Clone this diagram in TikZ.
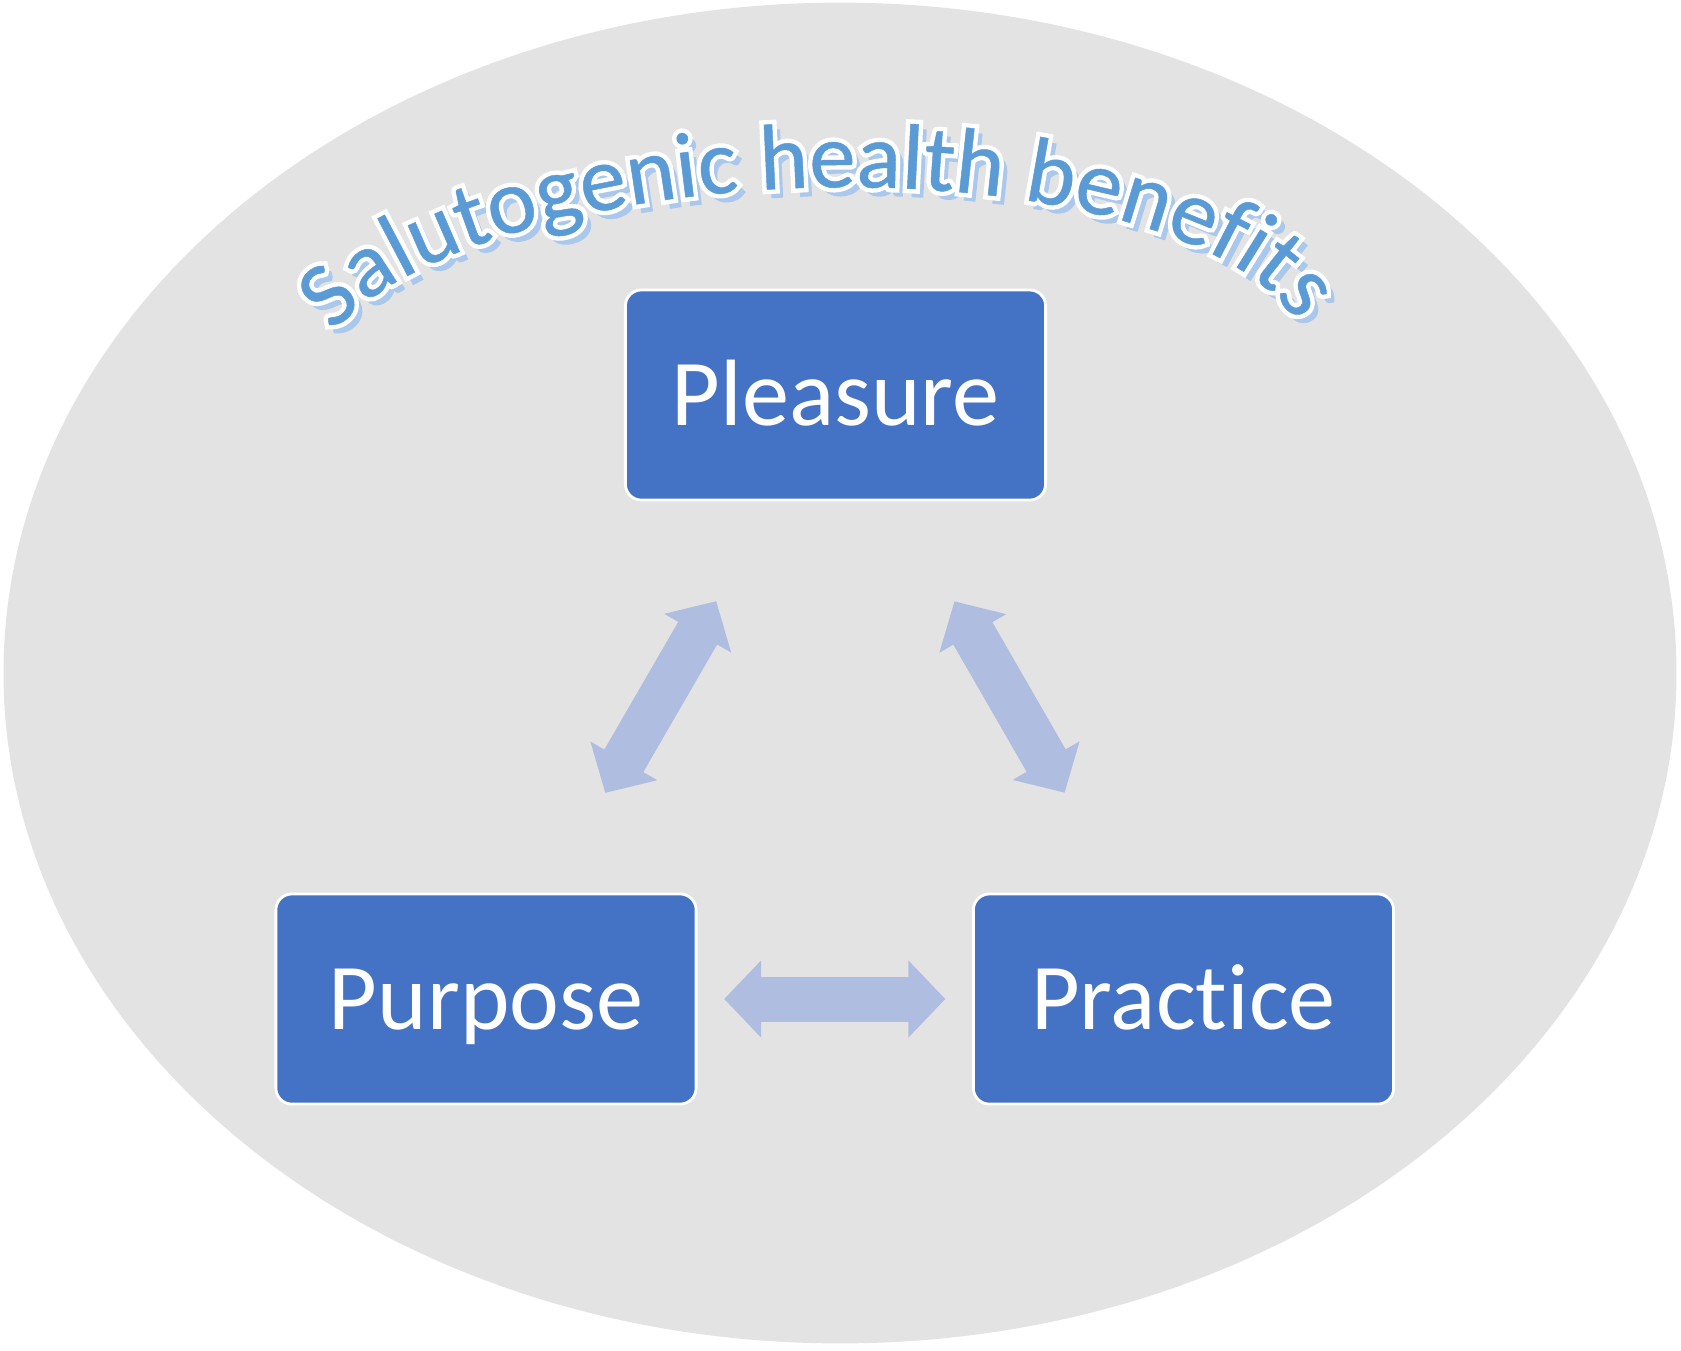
\documentclass[tikz,border=0pt]{standalone}
\usepackage{fontspec}
\setmainfont{Carlito}[Ligatures=NoCommon]
\newfontfamily\titlefont{Carlito}[Ligatures=NoCommon,FakeBold=0.5]
\newfontfamily\titleshade{Carlito}[Ligatures=NoCommon,FakeBold=4]
\newfontfamily\titleedge{Carlito}[Ligatures=NoCommon,FakeBold=10]
\usetikzlibrary{arrows.meta,decorations.text}
\definecolor{ovalgray}{HTML}{E4E3E4}
\definecolor{boxblue}{HTML}{4472C4}
\definecolor{arrowblue}{HTML}{AFBDE0}
\definecolor{titleblue}{HTML}{5B9BD5}
\definecolor{shadowblue}{HTML}{A9C8EC}
\newcommand\titlesize{\fontsize{26.5}{26.5}\selectfont}

\begin{document}
\begin{tikzpicture}[x=0.01cm,y=-0.01cm,
    box/.style={draw=white, line width=0.8pt, fill=boxblue, rounded corners=1.6mm,
        minimum width=4.2cm, minimum height=2.1cm, text=white,
        font=\fontsize{26.8}{26.8}\selectfont, text height=17.3pt, text depth=0pt},
    biarrow/.style={arrowblue, line width=4.5mm,
        {Triangle[width=7.5mm,length=3.7mm]}-{Triangle[width=7.5mm,length=3.7mm]},
        shorten <=23.8mm, shorten >=23.8mm},
    titlearc/.style 2 args={decorate, decoration={text along path, text align=fit to path,
        text color=#1, text={|#2\titlesize|Salutogenic health benefits}}}]
\useasboundingbox (0,0) rectangle (1681,1350);
\fill[white] (0,0) rectangle (1681,1350);
\fill[ovalgray] (840,673) ellipse [x radius=8.36cm, y radius=6.7cm];

% curved title
\begin{scope}[rotate around={2:(808,378)}]
\path[titlearc={shadowblue}{\titleshade}] (814,385) ++(161:5cm and 1.9cm) arc [start angle=161, end angle=11.5, x radius=5cm, y radius=1.9cm];
\path[titlearc={white}{\titleedge}] (808,378) ++(161:5cm and 1.9cm) arc [start angle=161, end angle=11.5, x radius=5cm, y radius=1.9cm];
\path[titlearc={titleblue}{\titlefont}] (808,378) ++(161:5cm and 1.9cm) arc [start angle=161, end angle=11.5, x radius=5cm, y radius=1.9cm];
\end{scope}

\node[box] (pleasure) at (835.5,395) {Pleasure};
\node[box] (purpose) at (486,999) {Purpose};
\node[box] (practice) at (1183.5,999) {Practice};

\draw[biarrow] (purpose.center) -- (pleasure.center);
\draw[biarrow] (pleasure.center) -- (practice.center);
\draw[biarrow] (purpose.center) -- (practice.center);

\end{tikzpicture}
\end{document}
